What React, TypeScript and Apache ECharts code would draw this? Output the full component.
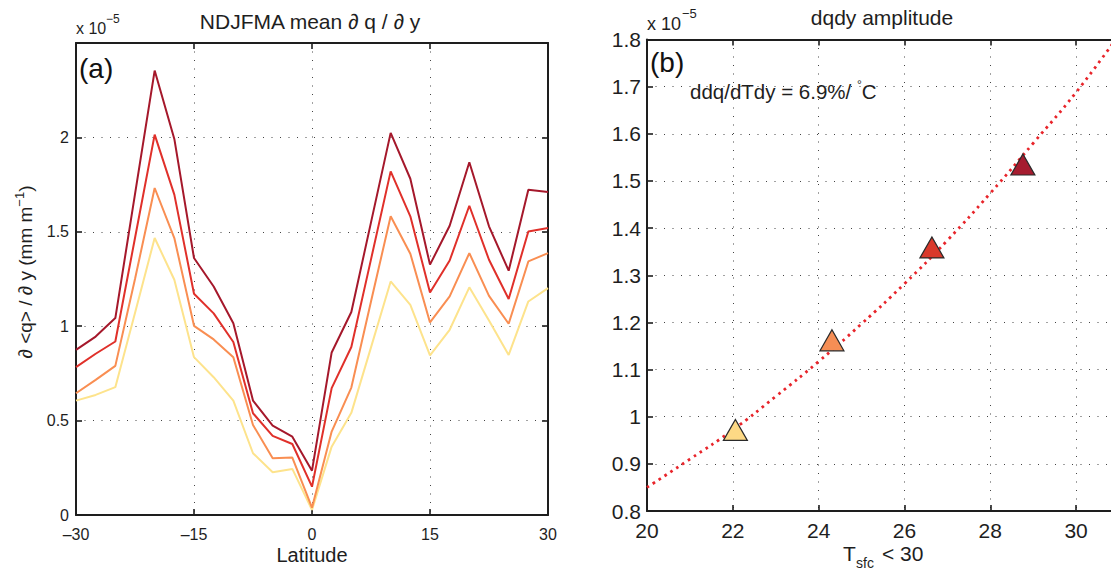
import React, { useEffect, useRef } from "react";
import * as echarts from "echarts";

// ---------- Data ----------
const latitudes = [-30, -27.5, -25, -22.5, -20, -17.5, -15, -12.5, -10, -7.5, -5, -2.5, 0, 2.5, 5, 7.5, 10, 12.5, 15, 17.5, 20, 22.5, 25, 27.5, 30];
const darkRedValues = [0.875, 0.945, 1.043, 1.70, 2.354, 1.992, 1.361, 1.21, 1.016, 0.606, 0.474, 0.415, 0.235, 0.861, 1.075, 1.55, 2.024, 1.781, 1.326, 1.532, 1.868, 1.529, 1.294, 1.723, 1.711];
const redValues = [0.783, 0.854, 0.919, 1.467, 2.015, 1.697, 1.172, 1.068, 0.916, 0.539, 0.419, 0.376, 0.150, 0.672, 0.890, 1.354, 1.820, 1.582, 1.179, 1.348, 1.638, 1.352, 1.144, 1.502, 1.520];
const orangeValues = [0.645, 0.716, 0.790, 1.25, 1.732, 1.467, 1.002, 0.93, 0.836, 0.477, 0.300, 0.304, 0.039, 0.442, 0.675, 1.131, 1.582, 1.384, 1.020, 1.158, 1.387, 1.161, 1.013, 1.343, 1.387];
const yellowValues = [0.606, 0.636, 0.677, 1.07, 1.467, 1.246, 0.836, 0.730, 0.606, 0.327, 0.226, 0.244, 0.027, 0.362, 0.541, 0.888, 1.237, 1.113, 0.845, 0.981, 1.206, 1.03, 0.848, 1.131, 1.202];

const latTicks = [-30, -15, 0, 15, 30];
const gradTicks = [0, 0.5, 1, 1.5, 2, 2.5];

const tsfcPoints = [22.06, 24.31, 26.64, 28.76];
const amplitudePoints = [0.972, 1.162, 1.359, 1.535];

const fitTsfc = [20, 21, 22, 23, 24, 25, 26, 27, 28, 29, 30, 31];
const fitAmplitude = [0.85, 0.91, 0.972, 1.043, 1.117, 1.197, 1.282, 1.374, 1.474, 1.58, 1.688, 1.81];

const tsfcTicks = [20, 22, 24, 26, 28, 30, 31];
const ampTicks = [0.8, 0.9, 1, 1.1, 1.2, 1.3, 1.4, 1.5, 1.6, 1.7, 1.8];

// ---------- Styles ----------
const FONT = '"Liberation Sans", Arial, Helvetica, sans-serif';
const INK = "#1e1e1e";
const lineColors = ["#fde38c", "#f98e52", "#e0302a", "#a5182b"];
const markerColors = ["#fdd985", "#f58e55", "#d9392b", "#a51c2f"];

function baseAxis(extra: any, showSplit: boolean) {
  return {
    type: "value",
    axisLine: { show: true, onZero: false, lineStyle: { color: INK, width: 2 } },
    axisTick: { show: true, inside: true, length: 6, lineStyle: { color: INK, width: 1.6 } },
    axisLabel: { show: false },
    splitLine: {
      show: showSplit,
      lineStyle: { color: "#444", width: 1, type: [1, 7.5] },
    },
    ...extra,
  };
}

export default function App() {
  const ref = useRef<HTMLDivElement>(null);

  useEffect(() => {
    if (!ref.current) return;
    const chart = echarts.init(ref.current, undefined, { renderer: "svg" });

    const aSeries = [yellowValues, orangeValues, redValues, darkRedValues].map((vals, k) => ({
      type: "line",
      xAxisIndex: 0,
      yAxisIndex: 0,
      showSymbol: false,
      symbol: "none",
      data: latitudes.map((x, i) => [x, vals[i]]),
      lineStyle: { color: lineColors[k], width: 2 },
      z: 3 + k,
    }));

    const latMin = latTicks[0];
    const latMax = latTicks[latTicks.length - 1];
    const latInt = latTicks[1] - latTicks[0];
    const gMin = gradTicks[0];
    const gMax = gradTicks[gradTicks.length - 1];
    const gInt = gradTicks[1] - gradTicks[0];
    const tMin = tsfcTicks[0];
    const tMax = tsfcTicks[tsfcTicks.length - 1];
    const tInt = tsfcTicks[1] - tsfcTicks[0];
    const aMin = ampTicks[0];
    const aMax = ampTicks[ampTicks.length - 1];
    const aInt = 0.1;

    const dash = (v: number) => (v < 0 ? "\u2013" + String(-v) : String(v));

    const option: any = {
      animation: false,
      backgroundColor: "#fff",
      grid: [
        { left: 76, top: 43, width: 472, height: 472 },
        { left: 647, top: 39.5, width: 472, height: 471.5 },
      ],
      xAxis: [
        baseAxis({ gridIndex: 0, position: "bottom", min: latMin, max: latMax, interval: latInt,
          axisLabel: { show: true, color: INK, fontSize: 16, lineHeight: 16, fontFamily: FONT, margin: 11, showMinLabel: true, showMaxLabel: true, formatter: dash } }, true),
        baseAxis({ gridIndex: 0, position: "top", min: latMin, max: latMax, interval: latInt }, false),
        baseAxis({ gridIndex: 1, position: "bottom", min: tMin, max: tMax, interval: tInt,
          axisLabel: { show: true, color: INK, fontSize: 21, lineHeight: 20, fontFamily: FONT, margin: 9, showMinLabel: true, showMaxLabel: false } }, true),
        baseAxis({ gridIndex: 1, position: "top", min: tMin, max: tMax, interval: tInt }, false),
      ],
      yAxis: [
        baseAxis({ gridIndex: 0, position: "left", min: gMin, max: gMax, interval: gInt,
          axisLabel: { show: true, color: INK, fontSize: 16, fontFamily: FONT, margin: 7, showMinLabel: true, showMaxLabel: false } }, true),
        baseAxis({ gridIndex: 0, position: "right", min: gMin, max: gMax, interval: gInt }, false),
        baseAxis({ gridIndex: 1, position: "left", min: aMin, max: aMax, interval: aInt,
          axisLabel: { show: true, color: INK, fontSize: 21, fontFamily: FONT, margin: 6, showMinLabel: true, showMaxLabel: true,
            formatter: (v: number) => String(Math.round(v * 10) / 10) } }, true),
        baseAxis({ gridIndex: 1, position: "right", min: aMin, max: aMax, interval: aInt }, false),
      ],
      series: [
        ...aSeries,
        {
          type: "line",
          xAxisIndex: 2,
          yAxisIndex: 2,
          smooth: true,
          symbol: "none",
          data: fitTsfc.map((x, i) => [x, fitAmplitude[i]]),
          lineStyle: { color: "#e8242a", width: 2.8, type: [2.6, 4.4] },
          z: 3,
        },
        {
          type: "scatter",
          xAxisIndex: 2,
          yAxisIndex: 2,
          symbol: "triangle",
          symbolSize: [24, 21],
          itemStyle: { opacity: 1 },
          data: tsfcPoints.map((x, i) => ({
            value: [x, amplitudePoints[i]],
            itemStyle: { color: markerColors[i], borderColor: "#2a2a2a", borderWidth: 1.2, opacity: 1 },
          })),
          z: 5,
        },
      ],
      graphic: [
        // Panel (a)
        { type: "text", x: 310, y: 21, style: { text: "NDJFMA mean \u2202 q / \u2202 y", fontSize: 21, fontFamily: FONT, fill: INK, align: "center", verticalAlign: "middle" } },
        { type: "text", x: 76, y: 28.5, style: { text: "x 10", fontSize: 16, fontFamily: FONT, fill: INK, align: "left", verticalAlign: "middle" } },
        { type: "text", x: 106, y: 19, style: { text: "\u22125", fontSize: 12, fontFamily: FONT, fill: INK, align: "left", verticalAlign: "middle" } },
        { type: "text", x: 79, y: 68, style: { text: "(a)", fontSize: 28, fontFamily: FONT, fill: "#111", align: "left", verticalAlign: "middle" } },
        { type: "text", x: 312, y: 555, style: { text: "Latitude", fontSize: 20, fontFamily: FONT, fill: INK, align: "center", verticalAlign: "middle" } },
        {
          type: "text", x: 25, y: 272, rotation: Math.PI / 2,
          style: {
            text: "\u2202 <q> / \u2202 y (mm m{sup|\u22121})",
            fontSize: 19, fontFamily: FONT, fill: INK, align: "center", verticalAlign: "middle",
            rich: { sup: { fontSize: 13, fontFamily: FONT, fill: INK, padding: [0, 0, 11, 0] } },
          },
        },
        // Panel (b)
        { type: "text", x: 882, y: 17, style: { text: "dqdy amplitude", fontSize: 21, fontFamily: FONT, fill: INK, align: "center", verticalAlign: "middle" } },
        { type: "text", x: 647, y: 23.5, style: { text: "x 10", fontSize: 18, fontFamily: FONT, fill: INK, align: "left", verticalAlign: "middle" } },
        { type: "text", x: 682, y: 13, style: { text: "\u22125", fontSize: 13, fontFamily: FONT, fill: INK, align: "left", verticalAlign: "middle" } },
        { type: "text", x: 650, y: 62, style: { text: "(b)", fontSize: 28, fontFamily: FONT, fill: "#111", align: "left", verticalAlign: "middle" } },
        {
          type: "text", x: 690, y: 91,
          style: {
            text: "ddq/dTdy = 6.9%/ {sup|\u00b0}C",
            fontSize: 20.5, fontFamily: FONT, fill: INK, align: "left", verticalAlign: "middle",
            rich: { sup: { fontSize: 12, fontFamily: FONT, fill: INK, padding: [0, 0, 12, 0] } },
          },
        },
        { type: "text", x: 843, y: 553, style: { text: "T", fontSize: 21, fontFamily: FONT, fill: INK, align: "left", verticalAlign: "middle" } },
        { type: "text", x: 856, y: 563, style: { text: "sfc", fontSize: 14, fontFamily: FONT, fill: INK, align: "left", verticalAlign: "middle" } },
        { type: "text", x: 882, y: 553, style: { text: "< 30", fontSize: 21, fontFamily: FONT, fill: INK, align: "left", verticalAlign: "middle" } },
      ],
    };

    chart.setOption(option);
    return () => chart.dispose();
  }, []);

  return (
    <div style={{ position: "fixed", left: 0, top: 0, width: 1111, height: 571, overflow: "hidden", background: "#fff" }}>
      <div ref={ref} style={{ width: 1120, height: 571 }} />
    </div>
  );
}
